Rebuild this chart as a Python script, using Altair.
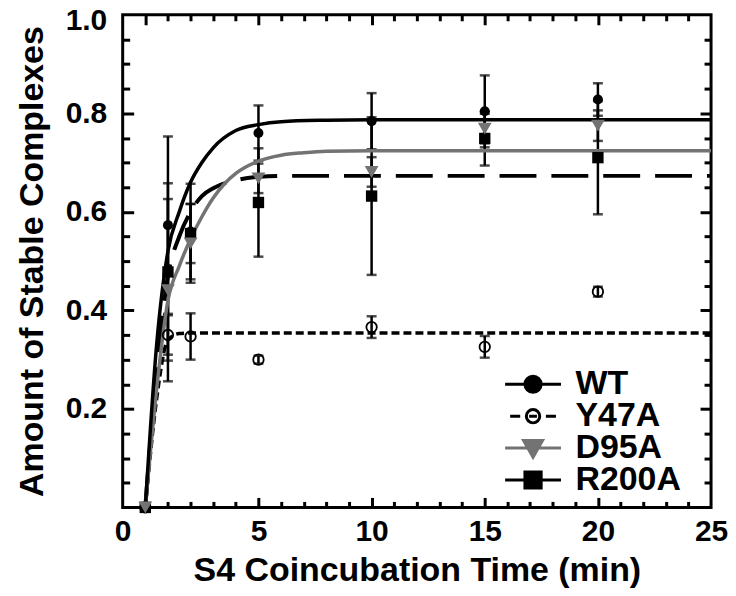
import altair as alt
import pandas as pd

# ---------------- data ----------------
series_names = ["WT", "Y47A", "D95A", "R200A"]
times = [0, 1, 2, 5, 10, 15, 20]

wt_mean = [0.0, 0.573, 0.560, 0.760, 0.784, 0.804, 0.828]
wt_err = [0.0, 0.180, 0.097, 0.056, 0.057, 0.073, 0.033]
y47a_mean = [0.0, 0.350, 0.347, 0.300, 0.366, 0.326, 0.438]
y47a_err = [0.0, 0.040, 0.047, 0.008, 0.022, 0.022, 0.010]
d95a_mean = [0.0, 0.441, 0.536, 0.668, 0.681, 0.769, 0.775]
d95a_err = [0.0, 0.185, 0.080, 0.030, 0.030, 0.030, 0.031]
r200a_mean = [0.0, 0.478, 0.556, 0.619, 0.632, 0.749, 0.710]
r200a_err = [0.0, 0.180, 0.060, 0.110, 0.160, 0.055, 0.115]

# fitted curves
wt_fit_t = [0, 0.5, 1, 1.5, 2, 2.5, 3, 4, 5, 6, 8, 10, 25]
wt_fit_y = [0, 0.33, 0.52, 0.60, 0.66, 0.70, 0.73, 0.765, 0.777, 0.783, 0.786, 0.787, 0.787]
y47a_fit_t = [0, 0.5, 1, 1.5, 2, 5, 10, 25]
y47a_fit_y = [0, 0.22, 0.34, 0.353, 0.354, 0.354, 0.354, 0.354]
d95a_fit_t = [0, 0.5, 1, 1.5, 2, 2.5, 3, 3.5, 4, 5, 6, 7, 8, 10, 25]
d95a_fit_y = [0, 0.24, 0.42, 0.49, 0.545, 0.59, 0.628, 0.657, 0.678, 0.703, 0.715, 0.72, 0.723, 0.724, 0.724]
r200a_fit_t = [0, 0.5, 1, 1.5, 2, 2.5, 3, 4, 5, 6, 8, 10, 25]
r200a_fit_y = [0, 0.28, 0.47, 0.55, 0.60, 0.632, 0.648, 0.664, 0.671, 0.673, 0.673, 0.673, 0.673]

# axis ticks
x_label_values = [-1, 5, 10, 15, 20, 25]
x_major = [0, 5, 10, 15, 20]
x_minor = [1, 2, 3, 4, 6, 7, 8, 9, 11, 12, 13, 14, 16, 17, 18, 19, 21, 22, 23, 24]
y_label_values = [0.2, 0.4, 0.6, 0.8, 1.0]
y_major = [0.2, 0.4, 0.6, 0.8]
y_minor = [0.05, 0.1, 0.15, 0.25, 0.3, 0.35, 0.45, 0.5, 0.55, 0.65, 0.7, 0.75, 0.85, 0.9, 0.95]

# ---------------- styling ----------------
GRAY = "#737373"
FONT = "Liberation Sans"
W, H = 590, 494

means = {"WT": wt_mean, "Y47A": y47a_mean, "D95A": d95a_mean, "R200A": r200a_mean}
errs = {"WT": wt_err, "Y47A": y47a_err, "D95A": d95a_err, "R200A": r200a_err}
fits = {"WT": (wt_fit_t, wt_fit_y), "Y47A": (y47a_fit_t, y47a_fit_y),
        "D95A": (d95a_fit_t, d95a_fit_y), "R200A": (r200a_fit_t, r200a_fit_y)}

rows = []
for s in series_names:
    for t, m, e in zip(times, means[s], errs[s]):
        rows.append({"series": s, "t": t, "mean": m, "lo": m - e, "hi": m + e, "err": e})
pts = pd.DataFrame(rows)
curves = {s: pd.DataFrame({"t": fits[s][0], "y": fits[s][1]}) for s in series_names}

xs = alt.Scale(domain=[-1, 25], nice=False, zero=False)
ys = alt.Scale(domain=[0, 1], nice=False, zero=False)


def X(field, axis=None):
    return alt.X(field, type="quantitative", scale=xs, axis=axis, title=None)


def Y(field, axis=None):
    return alt.Y(field, type="quantitative", scale=ys, axis=axis, title=None)


# error bars
eb = pts[pts["err"] > 0]
err_rule = alt.Chart(eb).mark_rule(color="black", strokeWidth=2.5).encode(
    x=X("t"), y=Y("lo"), y2="hi")
err_lo = alt.Chart(eb).mark_tick(color="black", orient="horizontal", size=10, thickness=2.5).encode(
    x=X("t"), y=Y("lo"))
err_hi = alt.Chart(eb).mark_tick(color="black", orient="horizontal", size=10, thickness=2.5).encode(
    x=X("t"), y=Y("hi"))

# fitted lines
line_styles = {
    "WT": dict(color="black", strokeWidth=3.5),
    "Y47A": dict(color="black", strokeWidth=3.5, strokeDash=[8, 4]),
    "D95A": dict(color=GRAY, strokeWidth=3.5),
    "R200A": dict(color="black", strokeWidth=4, strokeDash=[37, 15]),
}
lines = [alt.Chart(curves[s]).mark_line(interpolate="monotone", **line_styles[s]).encode(
    x=X("t"), y=Y("y")) for s in ["Y47A", "R200A", "D95A", "WT"]]

# points
pt_styles = {
    "WT": dict(shape="circle", filled=True, color="black", size=100, opacity=1),
    "Y47A": dict(shape="circle", filled=False, color="black", size=110, strokeWidth=1.8, opacity=1),
    "D95A": dict(shape="triangle-down", filled=True, color=GRAY, size=190, opacity=1),
    "R200A": dict(shape="square", filled=True, color="black", size=130, opacity=1),
}
points = [alt.Chart(pts[pts["series"] == s]).mark_point(**pt_styles[s]).encode(
    x=X("t"), y=Y("mean")) for s in ["Y47A", "WT", "R200A", "D95A"]]

# legend (line + marker symbols)
legend_paths = [
    "M-1,0H1M0.29,0A0.29,0.29,0,1,1,-0.29,0A0.29,0.29,0,1,1,0.29,0Z",
    "M-0.82,0H-0.46M0.46,0H0.82M0.24,0A0.24,0.24,0,1,1,-0.24,0A0.24,0.24,0,1,1,0.24,0ZM-0.14,0H0.14",
    "M-1,0H1M-0.34,-0.27L0.34,-0.27L0,0.33Z",
    "M-1,0H1M-0.29,-0.29H0.29V0.29H-0.29Z",
]
legend_fill = ["black", "white", GRAY, "black"]
legend_stroke = ["black", "black", GRAY, "black"]
leg = alt.Legend(orient="none", legendX=382, legendY=356, title=None,
                 labelFont=FONT, labelFontSize=34, labelFontWeight="bold", labelColor="black",
                 symbolSize=3136, symbolStrokeWidth=3, clipHeight=29,
                 labelOffset=13, padding=0)
legend_df = pd.DataFrame({"series": series_names})
legend_layer = alt.Chart(legend_df).transform_filter("datum.series == 'none'").mark_point(
    filled=True, opacity=1).encode(
    shape=alt.Shape("series:N", scale=alt.Scale(domain=series_names, range=legend_paths), legend=leg),
    fill=alt.Fill("series:N", scale=alt.Scale(domain=series_names, range=legend_fill), legend=leg),
    stroke=alt.Stroke("series:N", scale=alt.Scale(domain=series_names, range=legend_stroke), legend=leg),
)

# axes: labels/titles, and inward ticks on all four sides
label_layer = alt.Chart(pts).mark_point(opacity=0).encode(
    x=alt.X("t:Q", scale=xs, title="S4 Coincubation Time (min)",
            axis=alt.Axis(orient="bottom", values=x_label_values, ticks=False, domain=False,
                          labelExpr="datum.value < 0 ? '0' : datum.label", labelFlush=False,
                          labelOverlap=False, labelPadding=9, titlePadding=7)),
    y=alt.Y("mean:Q", scale=ys, title="Amount of Stable Complexes",
            axis=alt.Axis(orient="left", values=y_label_values, format=".1f", ticks=False,
                          domain=False, labelPadding=16, titlePadding=16, labelOverlap=False,
                          labelFlush=True, labelFlushOffset=9)),
)


def tick_axis(orient, offset, values, size):
    return alt.Axis(orient=orient, offset=offset, values=values, tickSize=size, labels=False,
                    domain=False, ticks=True, minExtent=0, labelOverlap=False)


tick_layers = [
    alt.Chart(pts).mark_point(opacity=0).encode(
        x=X("t", tick_axis("top", -H, x_major, 10)), y=Y("mean", tick_axis("right", -W, y_major, 11))),
    alt.Chart(pts).mark_point(opacity=0).encode(
        x=X("t", tick_axis("top", -H, x_minor, 6)), y=Y("mean", tick_axis("right", -W, y_minor, 7))),
    alt.Chart(pts).mark_point(opacity=0).encode(
        x=X("t", tick_axis("bottom", -H, x_major, 10)), y=Y("mean", tick_axis("left", -W, y_major, 11))),
    alt.Chart(pts).mark_point(opacity=0).encode(
        x=X("t", tick_axis("bottom", -H, x_minor, 6)), y=Y("mean", tick_axis("left", -W, y_minor, 7))),
]

chart = alt.layer(
    label_layer, *tick_layers, err_rule, err_lo, err_hi, *lines, *points, legend_layer
).resolve_axis(x="independent", y="independent").properties(
    width=W, height=H, background="white",
    padding={"left": 7, "top": -3, "right": 0, "bottom": 0}
).configure_axis(
    labelFont=FONT, labelFontSize=30, labelFontWeight="bold", labelColor="black",
    titleFont=FONT, titleFontSize=34, titleFontWeight="bold", titleColor="black",
    grid=False, tickColor="black", tickWidth=3,
).configure_legend(
    rowPadding=-7
).configure_view(
    stroke="black", strokeWidth=3
)

chart.save("out.html", embed_options={"renderer": "svg", "actions": False})
